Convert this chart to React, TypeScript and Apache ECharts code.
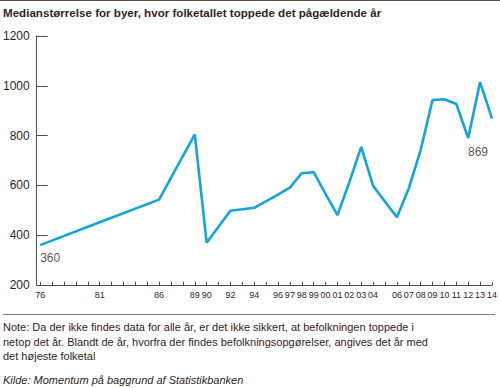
import React, { useEffect, useRef } from "react";
import * as echarts from "echarts";

const years = [1976, 1981, 1986, 1989, 1990, 1992, 1994, 1996, 1997, 1998, 1999, 2000, 2001, 2002, 2003, 2004, 2006, 2007, 2008, 2009, 2010, 2011, 2012, 2013, 2014];
const values = [360, 452, 543, 805, 370, 498, 510, 563, 591, 649, 653, 566, 481, 612, 755, 598, 472, 588, 742, 943, 946, 927, 790, 1015, 869];
const yTicks = [200, 400, 600, 800, 1000, 1200];

const titleText = "Medianstørrelse for byer, hvor folketallet toppede det pågældende år";
const noteLines = [
  "Note: Da der ikke findes data for alle år, er det ikke sikkert, at befolkningen toppede i",
  "netop det år. Blandt de år, hvorfra der findes befolkningsopgørelser, angives det år med",
  "det højeste folketal",
];
const sourceText = "Kilde: Momentum på baggrund af Statistikbanken";

const TXT = "#33241a";
const AX = "#5a4a40";
const LINE = "#12a4db";
const FONT = "'Liberation Sans', Arial, sans-serif";

export default function App() {
  const ref = useRef<HTMLDivElement>(null);
  useEffect(() => {
    if (!ref.current) return;
    const chart = echarts.init(ref.current, null, { renderer: "svg" });
    const last = years.length - 1;
    const labelPts = [
      { value: [years[0], values[0]], label: { offset: [10, 1] } },
      { value: [years[last], values[last]], label: { offset: [-14, 22] } },
    ];
    chart.setOption({
      animation: false,
      backgroundColor: "#ffffff",
      textStyle: { fontFamily: FONT },
      grid: { left: 38, right: 4, top: 36, bottom: 103, containLabel: false },
      xAxis: {
        type: "value",
        min: years[0],
        max: years[last],
        interval: 1,
        splitLine: { show: false },
        axisLine: { show: true, lineStyle: { color: AX, width: 1 } },
        axisTick: { show: true, inside: true, length: 3, lineStyle: { color: AX } },
        axisLabel: {
          color: TXT,
          fontSize: 9,
          margin: 5,
          showMinLabel: true,
          showMaxLabel: true,
          formatter: (v: number) =>
            years.includes(v) ? String(v % 100).padStart(2, "0") : "",
        },
      },
      yAxis: {
        type: "value",
        min: yTicks[0],
        max: yTicks[yTicks.length - 1],
        interval: 200,
        offset: 3.5,
        splitLine: { show: false },
        axisLine: { show: true, lineStyle: { color: AX, width: 1 } },
        axisTick: { show: true, inside: true, length: 11, lineStyle: { color: AX } },
        axisLabel: { color: TXT, fontSize: 12, margin: 7, formatter: (v: number) => String(v) },
      },
      series: [
        {
          type: "line",
          data: years.map((y, i) => [y, values[i]]),
          symbol: "none",
          lineStyle: { color: LINE, width: 2.6 },
        },
        {
          type: "scatter",
          data: labelPts,
          symbolSize: 2,
          itemStyle: { color: "rgba(0,0,0,0)" },
          label: {
            show: true,
            position: "bottom",
            color: TXT,
            fontSize: 12,
            formatter: (p: any) => String(p.value[1]),
          },
          z: 5,
        },
      ],
      graphic: [
        { type: "line", shape: { x1: 0, y1: 0.5, x2: 500, y2: 0.5 }, style: { stroke: AX, lineWidth: 1 } },
        {
          type: "text",
          left: 3,
          top: 6,
          style: { text: titleText, fill: TXT, font: `bold 11.6px ${FONT}` },
        },
        { type: "line", shape: { x1: 3, y1: 314.5, x2: 495, y2: 314.5 }, style: { stroke: "#8a7a70", lineWidth: 1 } },
        {
          type: "text",
          left: 3,
          top: 320,
          style: { text: noteLines.join("\n"), fill: TXT, font: `11px ${FONT}`, lineHeight: 14.5 },
        },
        {
          type: "text",
          left: 3,
          top: 374,
          style: { text: sourceText, fill: TXT, font: `italic 11px ${FONT}` },
        },
      ],
    });
    return () => chart.dispose();
  }, []);
  return (
    <div
      ref={ref}
      style={{ position: "fixed", left: 0, top: 0, width: 500, height: 388, background: "#fff" }}
    />
  );
}
